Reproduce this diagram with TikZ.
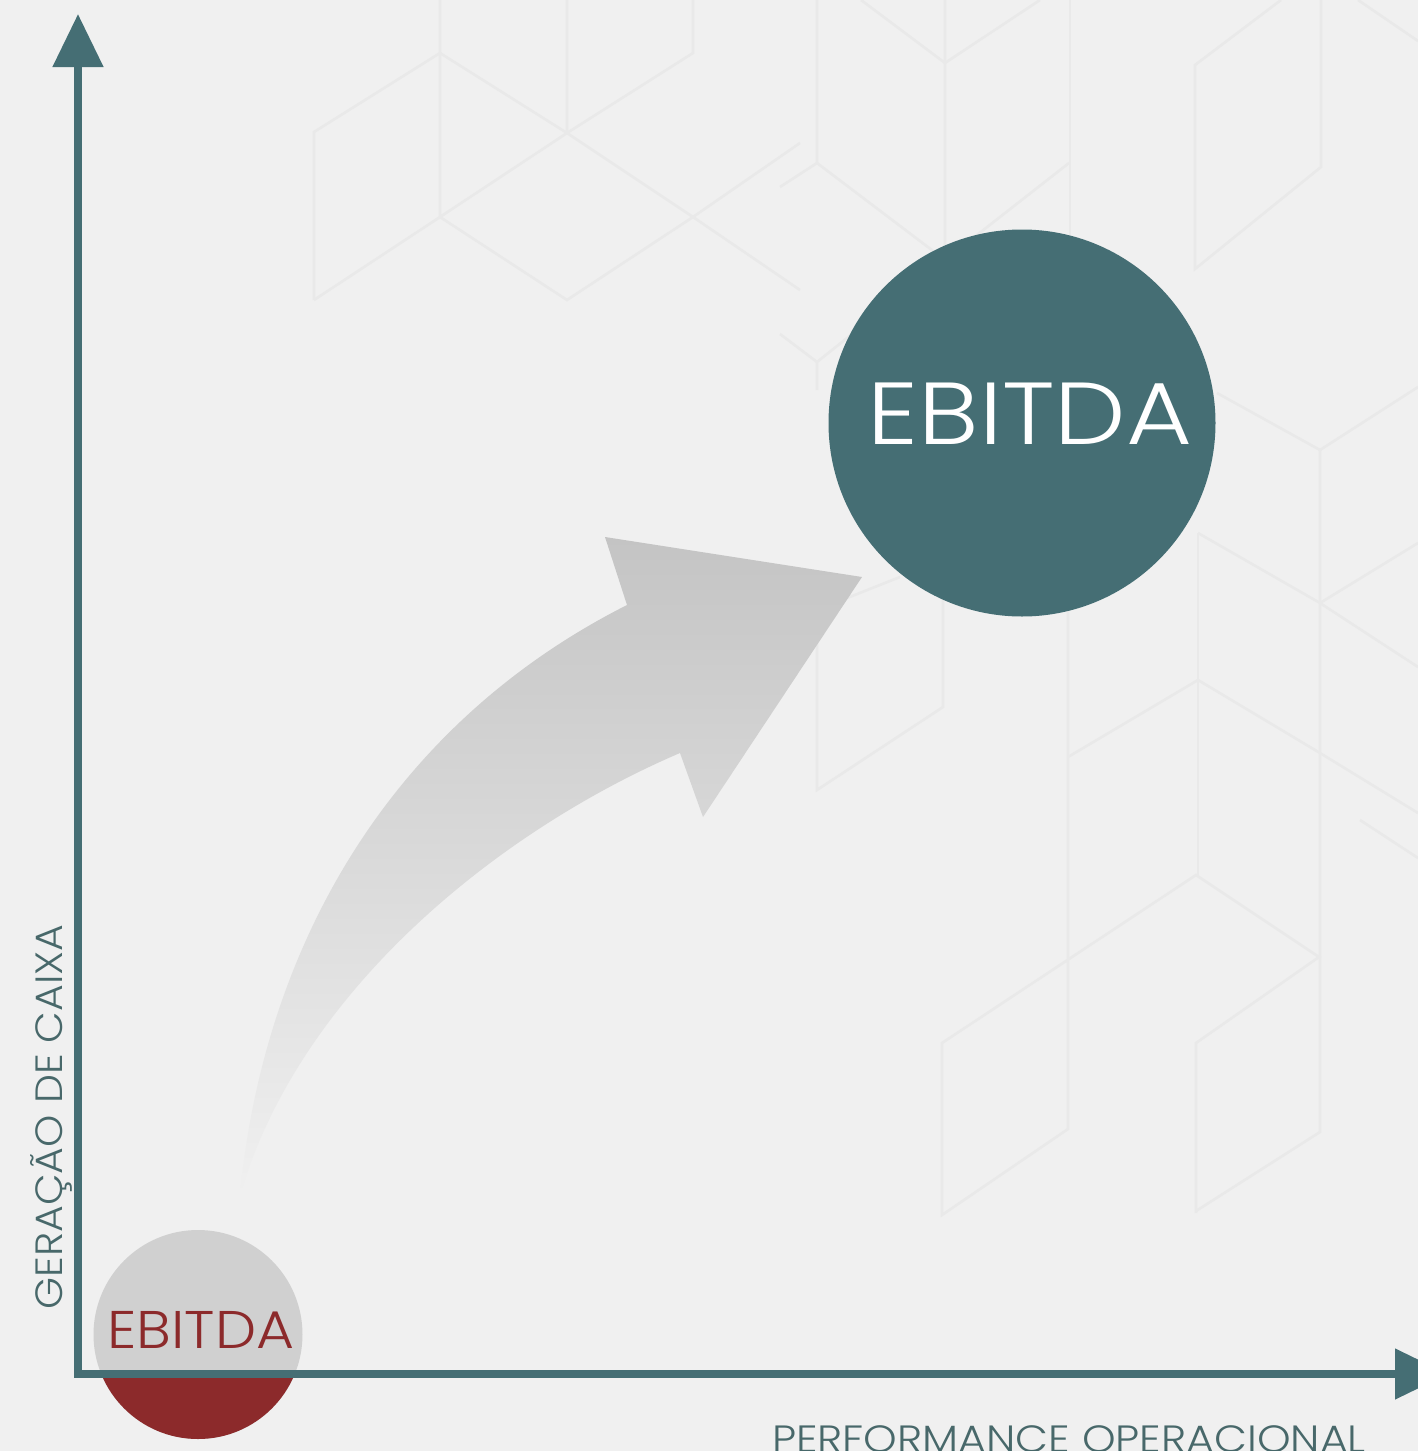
\documentclass[tikz,border=0pt]{standalone}
\usepackage{fontspec}
\setmainfont{Poppins}[UprightFont={* Light}]
\usetikzlibrary{positioning}
\usetikzlibrary{arrows.meta,calc}

\definecolor{BgGray}{HTML}{F0F0F0}
\definecolor{HexGray}{HTML}{E9E9E9}
\definecolor{AxisTeal}{HTML}{456E74}
\definecolor{LabelTeal}{HTML}{48686A}
\definecolor{BubbleRed}{HTML}{8C2A2B}
\definecolor{BubbleGray}{HTML}{D0D0D0}
\definecolor{ArrowGray}{HTML}{C4C4C4}
\definecolor{ArrowMid}{HTML}{CDCDCD}

\tikzset{
	hexline/.style={HexGray, line width=1.3pt, line join=miter},
	axisline/.style={AxisTeal, line width=4pt,
		{Triangle[length=26.5pt,width=24.5pt]}-{Triangle[length=26.5pt,width=24.5pt]}},
	bubble/.style={circle, inner sep=0pt, minimum size=#1},
	axislabel/.style={text=LabelTeal, font=\fontsize{19}{19}\selectfont, inner sep=0pt},
}

\begin{document}
\begin{tikzpicture}[x=0.5pt, y=-0.5pt]
	
	% ------------------------------------------------
	% Ensure the dimensions of graphic are appropriate
	\useasboundingbox (0,0) rectangle (1418,1451);
	\fill[BgGray] (0,0) rectangle (1418,1451);
	
	% ------------------------------------------------
	% Faint cube pattern in the background
	\draw[hexline] (314,300) -- (314,132) -- (440,53) -- (567,133) -- (693,217) -- (800,290);
	\draw[hexline] (440,0) -- (440,217) -- (567,133) -- (567,0);
	\draw[hexline] (693,0) -- (693,53) -- (567,133);
	\draw[hexline] (314,300) -- (440,217) -- (567,300) -- (693,217) -- (800,143);
	
	\draw[hexline] (817,0) -- (817,163) -- (945,260) -- (1069,163);
	\draw[hexline] (780,187) -- (817,163);
	\draw[hexline] (861,0) -- (945,63) -- (1040,0);
	\draw[hexline] (945,0) -- (945,260) -- (817,362) -- (817,390);
	\draw[hexline] (780,334) -- (817,362);
	\draw[hexline] (1070,0) -- (1070,277);
	\draw[hexline] (1281,0) -- (1195,65) -- (1195,269) -- (1321,167) -- (1321,0);
	\draw[hexline] (1358,0) -- (1418,41);
	
	\draw[hexline] (1217,393) -- (1320,450) -- (1418,387);
	\draw[hexline] (1320,450) -- (1320,1132) -- (1196,1211);
	\draw[hexline] (1198,533) -- (1198,875);
	\draw[hexline] (1198,533) -- (1320,603) -- (1418,543);
	\draw[hexline] (1320,603) -- (1418,667);
	\draw[hexline] (1068,600) -- (1068,1129) -- (942,1215) -- (942,1043) -- (1196,875)
		-- (1319,957) -- (1196,1043) -- (1196,1213);
	\draw[hexline] (1068,757) -- (1198,680) -- (1320,753) -- (1418,813);
	\draw[hexline] (1360,820) -- (1418,858);
	
	\draw[hexline] (817,593) -- (817,790) -- (943,707) -- (943,593);
	\draw[hexline] (817,610) -- (900,577);
	
	% ------------------------------------------------
	% Relevant coordinates
	\coordinate (Origin) at (78,1374);
	\path (Origin) +(0,-1360) coordinate (YTip);
	\path (Origin) +(1370,0)  coordinate (XTip);
	
	\coordinate (Tail)    at (240,1195);
	\coordinate (NeckOut) at (627,605);
	\coordinate (BarbOut) at (605,537);
	\coordinate (Tip)     at (862,577);
	\coordinate (BarbIn)  at (703,817);
	\coordinate (NeckIn)  at (680,753);
	
	% ----------------
	% Growth arrow
	\shade[top color=ArrowGray, middle color=ArrowMid, bottom color=BgGray]
		(Tail) .. controls (262,960) and (380,730) .. (NeckOut)
		-- (BarbOut) -- (Tip) -- (BarbIn) -- (NeckIn)
		.. controls (500,830) and (300,990) .. (Tail) -- cycle;
	
	% ----------------
	% Bubbles
	\node[bubble=193.5pt, fill=AxisTeal] (BigBubble) at (1022,423) {};
	\node[text=white, font=\fontsize{44}{44}\selectfont, inner sep=0pt]
		(BigLabel) at (1030,414) {\scalebox{1.15}[1]{EBITDA}};
	
	\node[bubble=104.5pt, fill=BubbleGray] (SmallBubble) at (198,1334.5) {};
	\begin{scope}
		\clip (0,1374) rectangle (1418,1451);
		\fill[BubbleRed] (SmallBubble.center) circle[radius=104.5];
	\end{scope}
	
	%%%%%%%%%%%%%%%%%%%%%%%%%%%%%%%%%%%%%%%%%
	%Axes
	\draw[axisline] (YTip) -- (Origin) -- (XTip);
	
	\node[text=BubbleRed, font=\fontsize{26.5}{26.5}\selectfont, inner sep=0pt]
		(SmallLabel) at (201,1330) {\scalebox{1.1}[1]{EBITDA}};
	
	\node[axislabel, rotate=90, anchor=base] (YLabel) at (62,1117)
		{\scalebox{1.08}[1]{GERAÇÃO DE CAIXA}};
	\node[axislabel, anchor=base] (XLabel) at (1069,1452)
		{\scalebox{1.125}[1]{PERFORMANCE OPERACIONAL}};
	
\end{tikzpicture}
\end{document}
